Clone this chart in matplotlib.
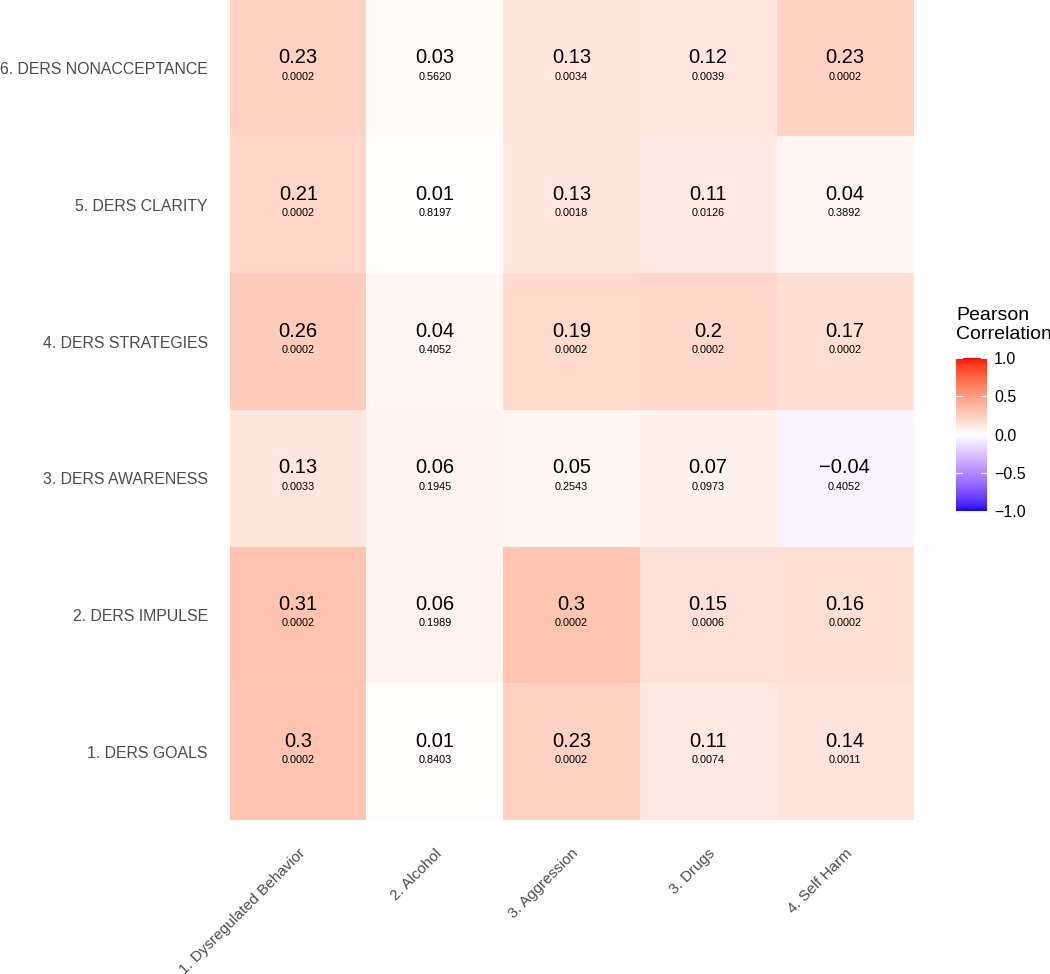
import numpy as np
import matplotlib
matplotlib.use('Agg')
import matplotlib.pyplot as plt
from matplotlib.colors import ListedColormap

plt.rcParams['font.family'] = ['Liberation Sans', 'DejaVu Sans']

# Data
outcomes = ['1. Dysregulated Behavior', '2. Alcohol', '3. Aggression', '3. Drugs', '4. Self Harm']
ders = ['1. DERS GOALS', '2. DERS IMPULSE', '3. DERS AWARENESS',
        '4. DERS STRATEGIES', '5. DERS CLARITY', '6. DERS NONACCEPTANCE']

# rows follow ders (bottom to top), columns follow outcomes
r_goals = [0.30, 0.01, 0.23, 0.11, 0.14]
r_impulse = [0.31, 0.06, 0.30, 0.15, 0.16]
r_awareness = [0.13, 0.06, 0.05, 0.07, -0.04]
r_strategies = [0.26, 0.04, 0.19, 0.20, 0.17]
r_clarity = [0.21, 0.01, 0.13, 0.11, 0.04]
r_nonaccept = [0.23, 0.03, 0.13, 0.12, 0.23]

p_goals = [0.0002, 0.8403, 0.0002, 0.0074, 0.0011]
p_impulse = [0.0002, 0.1989, 0.0002, 0.0006, 0.0002]
p_awareness = [0.0033, 0.1945, 0.2543, 0.0973, 0.4052]
p_strategies = [0.0002, 0.4052, 0.0002, 0.0002, 0.0002]
p_clarity = [0.0002, 0.8197, 0.0018, 0.0126, 0.3892]
p_nonaccept = [0.0002, 0.5620, 0.0034, 0.0039, 0.0002]

cbar_ticks = [-1.0, -0.5, 0.0, 0.5, 1.0]

R = np.array([r_goals, r_impulse, r_awareness, r_strategies, r_clarity, r_nonaccept])
P = np.array([p_goals, p_impulse, p_awareness, p_strategies, p_clarity, p_nonaccept])


# ggplot style blue-white-red gradient, interpolated in Lab space
def srgb_to_lab(rgb):
    c = np.asarray(rgb, dtype=float)
    c = np.where(c <= 0.04045, c / 12.92, ((c + 0.055) / 1.055) ** 2.4)
    m = np.array([[0.4124, 0.3576, 0.1805],
                  [0.2126, 0.7152, 0.0722],
                  [0.0193, 0.1192, 0.9505]])
    xyz = m @ c / np.array([0.95047, 1.0, 1.08883])
    f = np.where(xyz > 0.008856, np.cbrt(xyz), 7.787 * xyz + 16 / 116)
    return np.array([116 * f[1] - 16, 500 * (f[0] - f[1]), 200 * (f[1] - f[2])])


def lab_to_srgb(lab):
    L, a, b = lab
    fy = (L + 16) / 116
    fx = fy + a / 500
    fz = fy - b / 200
    f = np.array([fx, fy, fz])
    xyz = np.where(f ** 3 > 0.008856, f ** 3, (f - 16 / 116) / 7.787)
    xyz = xyz * np.array([0.95047, 1.0, 1.08883])
    m = np.array([[3.2406, -1.5372, -0.4986],
                  [-0.9689, 1.8758, 0.0415],
                  [0.0557, -0.2040, 1.0570]])
    c = m @ xyz
    c = np.where(c <= 0.0031308, 12.92 * c, 1.055 * np.clip(c, 0, None) ** (1 / 2.4) - 0.055)
    return np.clip(c, 0, 1)


low, mid, high = srgb_to_lab([0, 0, 1]), srgb_to_lab([1, 1, 1]), srgb_to_lab([1, 0, 0])
colors = []
for t in np.linspace(-1, 1, 256):
    if t < 0:
        lab = mid + (low - mid) * (-t)
    else:
        lab = mid + (high - mid) * t
    colors.append(lab_to_srgb(lab))
cmap = ListedColormap(colors)

fig = plt.figure(figsize=(10.5, 9.74), dpi=100)
ax = fig.add_axes([0.219, 0.158, 0.6505, 0.842])

im = ax.imshow(R, cmap=cmap, vmin=-1, vmax=1, aspect='auto', origin='lower',
               extent=(-0.5, len(outcomes) - 0.5, -0.5, len(ders) - 0.5))

for i in range(len(ders)):
    for j in range(len(outcomes)):
        lab = '{:g}'.format(R[i, j]).replace('-', '\u2212')
        ax.annotate(lab, (j, i), xytext=(0, 7.5), textcoords='offset points',
                    ha='center', va='center', fontsize=14.5, color='black')
        ax.annotate('{:.4f}'.format(P[i, j]), (j, i), xytext=(0, -6), textcoords='offset points',
                    ha='center', va='center', fontsize=7.8, color='black')

ax.set_xticks(range(len(outcomes)))
ax.set_xticklabels(outcomes, rotation=45, ha='right', va='top', rotation_mode='anchor',
                   fontsize=11, color='#4D4D4D')
ax.set_yticks(range(len(ders)))
ax.set_yticklabels(ders, fontsize=11.4, color='#4D4D4D')
ax.tick_params(axis='both', length=0)
ax.tick_params(axis='x', pad=19)
ax.tick_params(axis='y', pad=16)
for s in ax.spines.values():
    s.set_visible(False)

# colour bar legend
cax = fig.add_axes([0.9105, 0.4754, 0.0295, 0.157])
cb = fig.colorbar(im, cax=cax, ticks=cbar_ticks)
cb.outline.set_visible(False)
cb.ax.set_yticklabels(['{:.1f}'.format(t).replace('-', '\u2212') for t in cbar_ticks])
cb.ax.tick_params(length=0, labelsize=11.5, pad=5, colors='black')
for t in cbar_ticks:
    cax.plot([0, 0.2], [t, t], color='white', lw=0.8, transform=cax.get_yaxis_transform())
    cax.plot([0.8, 1], [t, t], color='white', lw=0.8, transform=cax.get_yaxis_transform())
fig.text(0.9105, 0.648, 'Pearson\nCorrelation', ha='left', va='bottom', fontsize=14,
         linespacing=1.15)

fig.savefig('out.png', dpi=100)
